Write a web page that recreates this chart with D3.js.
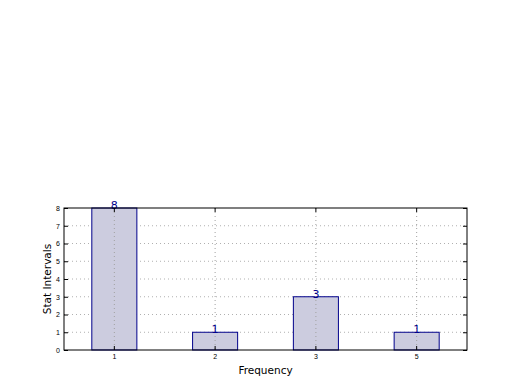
<!DOCTYPE html>
<html>
<head>
<meta charset="utf-8">
<script src="https://cdn.jsdelivr.net/npm/d3@7"></script>
<style>
  body { margin: 0; background: #fff; }
  svg { display: block; font-family: "DejaVu Sans", sans-serif; }
</style>
</head>
<body>
<script>
const categories = ["1", "2", "3", "5"];
const counts = [8, 1, 3, 1];
const yTicks = [0, 1, 2, 3, 4, 5, 6, 7, 8];

const svgWidth = 520;
const svgHeight = 390;
const margin = {top: 208, right: 53, bottom: 40, left: 64};
const chartWidth = svgWidth - margin.left - margin.right;
const chartHeight = svgHeight - margin.top - margin.bottom;

const svg = d3.select("body").append("svg")
    .attr("width", svgWidth)
    .attr("height", svgHeight);

const g = svg.append("g")
    .attr("transform", `translate(${margin.left}, ${margin.top})`);

const scaleX = d3.scaleBand()
    .domain(categories)
    .range([0, chartWidth])
    .paddingInner(0.553)
    .paddingOuter(0.276);

const scaleY = d3.scaleLinear()
    .domain([0, 8])
    .range([chartHeight, 0]);

// grid
g.selectAll("line.gy")
    .data(yTicks.slice(1, -1))
    .join("line")
    .attr("class", "gy")
    .attr("x1", 0).attr("x2", chartWidth)
    .attr("y1", d => scaleY(d)).attr("y2", d => scaleY(d))
    .attr("stroke", "#b0b0b0")
    .attr("stroke-dasharray", "1,3");

// bars
const data = categories.map((c, i) => ({cat: c, value: counts[i]}));
g.selectAll("rect.bar")
    .data(data)
    .join("rect")
    .attr("class", "bar")
    .attr("x", d => scaleX(d.cat))
    .attr("y", d => scaleY(d.value))
    .attr("width", scaleX.bandwidth())
    .attr("height", d => chartHeight - scaleY(d.value))
    .attr("fill", "#ccccdf")
    .attr("stroke", "#00008b")
    .attr("stroke-width", 1);

// vertical grid drawn over bars
g.selectAll("line.gx")
    .data(categories)
    .join("line")
    .attr("class", "gx")
    .attr("x1", d => scaleX(d) + scaleX.bandwidth() / 2)
    .attr("x2", d => scaleX(d) + scaleX.bandwidth() / 2)
    .attr("y1", 0).attr("y2", chartHeight)
    .attr("stroke", "#a0a0a0")
    .attr("stroke-dasharray", "1,3");

// value labels
g.selectAll("text.val")
    .data(data)
    .join("text")
    .attr("class", "val")
    .attr("x", d => scaleX(d.cat) + scaleX.bandwidth() / 2)
    .attr("y", d => scaleY(d.value) + 1)
    .attr("text-anchor", "middle")
    .attr("font-size", 11)
    .attr("fill", "#00008b")
    .text(d => d.value);

// axes, ticks inward
const axisLeft = d3.axisLeft(scaleY).tickValues(yTicks).tickSize(-4).tickPadding(4);
const gl = g.append("g").call(axisLeft);
gl.select(".domain").remove();
gl.selectAll("text").attr("font-size", 7).attr("fill", "#000");

const axisRight = d3.axisRight(scaleY).tickValues(yTicks).tickSize(-4).tickFormat("");
const gr = g.append("g").attr("transform", `translate(${chartWidth},0)`).call(axisRight);
gr.select(".domain").remove();

const axisBottom = d3.axisBottom(scaleX).tickSize(-4).tickPadding(4);
const gb = g.append("g").attr("transform", `translate(0,${chartHeight})`).call(axisBottom);
gb.select(".domain").remove();
gb.selectAll("text").attr("font-size", 7).attr("fill", "#000");

const axisTop = d3.axisTop(scaleX).tickSize(-4).tickFormat("");
const gt = g.append("g").call(axisTop);
gt.select(".domain").remove();

// frame
g.append("rect")
    .attr("width", chartWidth)
    .attr("height", chartHeight)
    .attr("fill", "none")
    .attr("stroke", "#000")
    .attr("stroke-width", 1);

// axis titles
g.append("text")
    .attr("x", chartWidth / 2)
    .attr("y", chartHeight + 24)
    .attr("text-anchor", "middle")
    .attr("font-size", 10.5)
    .text("Frequency");

g.append("text")
    .attr("transform", `translate(-13,${chartHeight / 2}) rotate(-90)`)
    .attr("text-anchor", "middle")
    .attr("font-size", 10.5)
    .text("Stat Intervals");
</script>
</body>
</html>
